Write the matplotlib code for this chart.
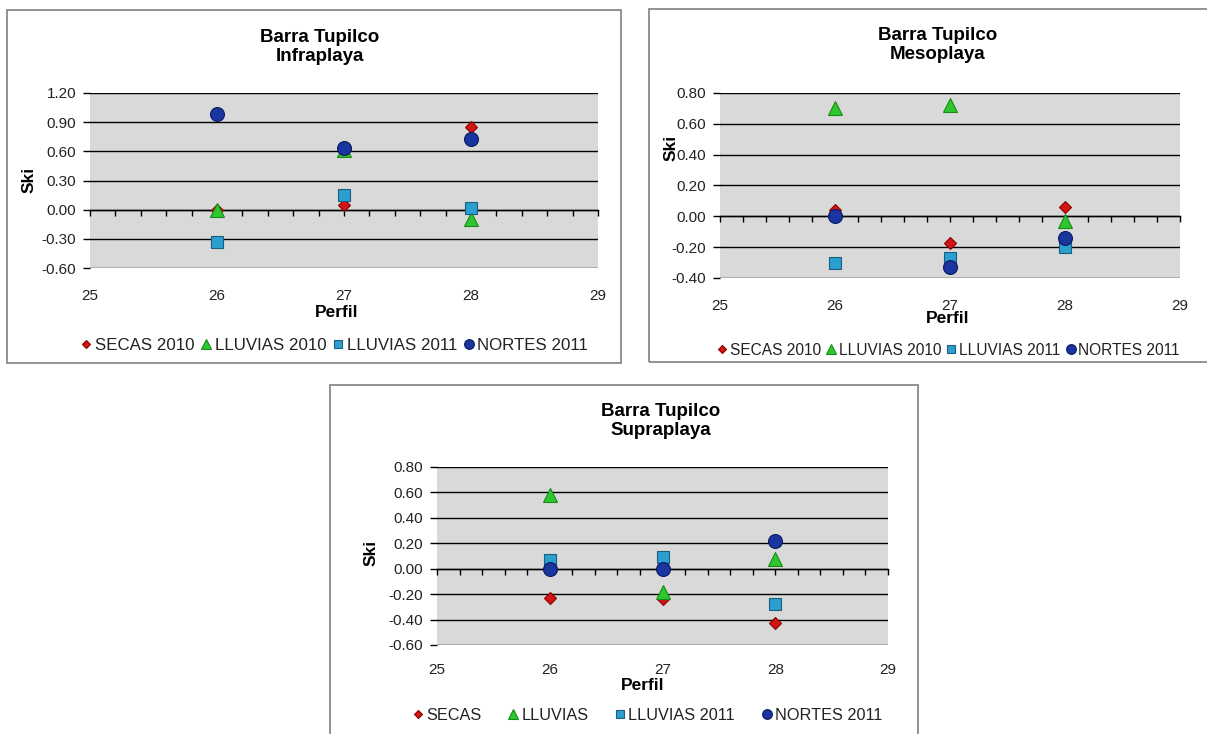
import matplotlib
matplotlib.use("Agg")
import matplotlib.pyplot as plt
from matplotlib.patches import Rectangle
from matplotlib.ticker import MultipleLocator, FormatStrFormatter

plt.rcParams['font.family'] = ['Liberation Sans', 'DejaVu Sans']
plt.rcParams['axes.unicode_minus'] = False

W, H = 1207, 734  # canvas size in pixels

# Data (Ski per perfil)
perfil = [26, 27, 28]

infra_secas_2010 = [0.00, 0.05, 0.85]
infra_lluvias_2010 = [0.00, 0.61, -0.10]
infra_lluvias_2011 = [-0.33, 0.15, 0.02]
infra_nortes_2011 = [0.98, 0.63, 0.73]

meso_secas_2010 = [0.04, -0.17, 0.06]
meso_lluvias_2010 = [0.70, 0.72, -0.03]
meso_lluvias_2011 = [-0.30, -0.27, -0.20]
meso_nortes_2011 = [0.00, -0.33, -0.14]

supra_secas = [-0.23, -0.24, -0.43]
supra_lluvias = [0.58, -0.18, 0.08]
supra_lluvias_2011 = [0.07, 0.09, -0.28]
supra_nortes_2011 = [0.00, 0.00, 0.22]

labels_year = ['SECAS 2010', 'LLUVIAS 2010', 'LLUVIAS 2011', 'NORTES 2011']
labels_supra = ['SECAS', 'LLUVIAS', 'LLUVIAS 2011', 'NORTES 2011']

# marker style per series (same order as the labels)
styles = [
    dict(marker='D', ms=6, mfc='#d21414', mec='#8b0000'),
    dict(marker='^', ms=10, mfc='#2ec82e', mec='#178a17'),
    dict(marker='s', ms=9, mfc='#2a9fd0', mec='#1a5f80'),
    dict(marker='o', ms=10, mfc='#1a35a0', mec='#0a1a5e'),
]


def fx(x):
    return x / W


def fy(y):
    return 1 - y / H


def panel(fig, frame, plot, ylim, ystep, series, labels, title,
          title_xy, ski_xy, perfil_xy, legend_xy, colspace, legsize, tickpad):
    x0, y0, x1, y1 = frame
    fig.patches.append(Rectangle((fx(x0), fy(y1)), (x1 - x0) / W, (y1 - y0) / H,
                                 transform=fig.transFigure, fill=False,
                                 edgecolor='#808080', lw=1.2))
    px0, py0, px1, py1 = plot
    ax = fig.add_axes([fx(px0), fy(py1), (px1 - px0) / W, (py1 - py0) / H])
    ax.set_facecolor('#d9d9d9')
    for vals, lab, st in zip(series, labels, styles):
        ax.plot(perfil, vals, linestyle='none', label=lab, mew=0.8, zorder=3, **st)
    ax.set_xlim(25, 29)
    ax.set_ylim(*ylim)
    ax.yaxis.set_major_locator(MultipleLocator(ystep))
    ax.yaxis.set_major_formatter(FormatStrFormatter('%.2f'))
    ax.xaxis.set_major_locator(MultipleLocator(1))
    ax.grid(axis='y', color='black', lw=1)
    ax.set_axisbelow(True)
    for s in ax.spines.values():
        s.set_visible(False)
    ax.tick_params(axis='x', length=0, pad=tickpad, labelsize=11, labelcolor='#222222')
    ax.tick_params(axis='y', length=5, width=1, color='black', pad=5,
                   labelsize=11, labelcolor='#222222')

    # horizontal axis line crosses at Ski = 0
    zero = (0 - ylim[0]) / (ylim[1] - ylim[0])
    sec = ax.secondary_xaxis(zero)
    sec.xaxis.set_major_locator(MultipleLocator(0.2))
    sec.tick_params(axis='x', direction='out', length=4, width=1, color='black',
                    labelbottom=False, labeltop=False)
    for s in sec.spines.values():
        s.set_color('black')
        s.set_linewidth(1)

    fig.text(fx(title_xy[0]), fy(title_xy[1]), title, ha='center', va='center',
             fontsize=13.5, fontweight='bold', linespacing=1.1)
    fig.text(fx(ski_xy[0]), fy(ski_xy[1]), 'Ski', rotation=90, ha='center',
             va='center', fontsize=12.5, fontweight='bold')
    fig.text(fx(perfil_xy[0]), fy(perfil_xy[1]), 'Perfil', ha='center',
             va='center', fontsize=12.5, fontweight='bold')
    ax.legend(loc='center', bbox_to_anchor=(fx(legend_xy[0]), fy(legend_xy[1])),
              bbox_transform=fig.transFigure, ncol=4, frameon=False,
              handletextpad=0.0, columnspacing=colspace, handlelength=1.0,
              borderaxespad=0, borderpad=0, fontsize=legsize, markerscale=0.7,
              labelcolor='#222222')
    return ax


fig = plt.figure(figsize=(W / 100, H / 100), dpi=100)

panel(fig, (7, 10, 621, 363), (90, 93, 598, 268), (-0.6, 1.2), 0.3,
      [infra_secas_2010, infra_lluvias_2010, infra_lluvias_2011, infra_nortes_2011],
      labels_year, 'Barra Tupilco\nInfraplaya',
      (320, 47), (29, 180), (337, 312), (333, 345), 0.2, 12.2, 15)

panel(fig, (649, 9, 1215, 362), (720, 93, 1180, 278), (-0.4, 0.8), 0.2,
      [meso_secas_2010, meso_lluvias_2010, meso_lluvias_2011, meso_nortes_2011],
      labels_year, 'Barra Tupilco\nMesoplaya',
      (938, 45), (671, 148), (948, 318), (947, 350), 0.15, 11.2, 15)

panel(fig, (330, 385, 918, 745), (437, 467, 888, 645), (-0.6, 0.8), 0.2,
      [supra_secas, supra_lluvias, supra_lluvias_2011, supra_nortes_2011],
      labels_supra, 'Barra Tupilco\nSupraplaya',
      (661, 421), (371, 553), (643, 685), (646, 715), 1.45, 11.7, 13)

fig.savefig('out.png', dpi=100, facecolor='white')
